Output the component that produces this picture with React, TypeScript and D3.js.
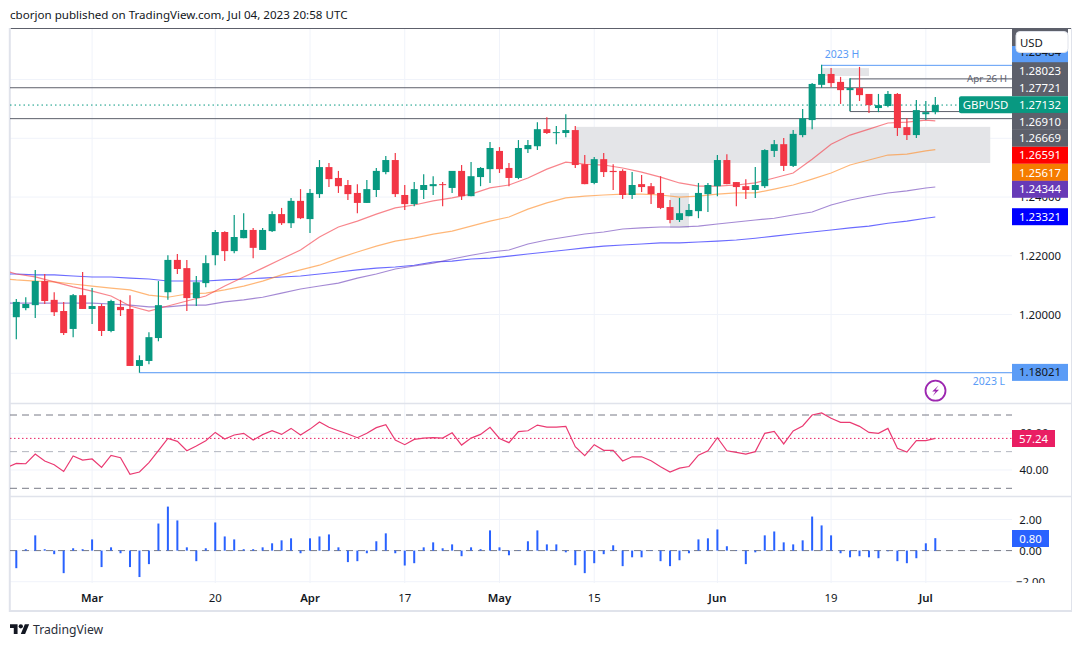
import React from "react";
import * as d3 from "d3";

const opens = [1.1991,1.2022,1.2032,1.2114,1.2050,1.2012,1.1951,1.2066,1.2019,1.2029,1.1944,1.2026,1.2019,1.1825,1.1842,1.1920,1.2076,1.2186,1.2158,1.2056,1.2107,1.2202,1.2281,1.2216,1.2260,1.2288,1.2220,1.2284,1.2342,1.2311,1.2387,1.2325,1.2410,1.2502,1.2465,1.2441,1.2414,1.2380,1.2424,1.2485,1.2526,1.2407,1.2376,1.2424,1.2437,1.2444,1.2431,1.2489,1.2403,1.2468,1.2495,1.2557,1.2499,1.2465,1.2563,1.2573,1.2631,1.2618,1.2618,1.2628,1.2512,1.2448,1.2529,1.2489,1.2489,1.2407,1.2444,1.2437,1.2414,1.2366,1.2322,1.2335,1.2352,1.2410,1.2437,1.2526,1.2451,1.2437,1.2424,1.2437,1.2557,1.2580,1.2506,1.2611,1.2662,1.2782,1.2819,1.2792,1.2764,1.2771,1.2751,1.2703,1.2710,1.2751,1.2638,1.2611,1.2682,1.2689];
const highs = [1.2053,1.2059,1.2152,1.2138,1.2076,1.2043,1.2070,1.2145,1.2090,1.2036,1.2050,1.2050,1.2066,1.1861,1.1940,1.2114,1.2202,1.2206,1.2186,1.2131,1.2202,1.2288,1.2284,1.2339,1.2345,1.2295,1.2295,1.2352,1.2363,1.2397,1.2427,1.2427,1.2526,1.2516,1.2489,1.2458,1.2444,1.2458,1.2499,1.2540,1.2550,1.2441,1.2451,1.2478,1.2471,1.2451,1.2489,1.2509,1.2519,1.2502,1.2587,1.2570,1.2516,1.2594,1.2594,1.2655,1.2672,1.2642,1.2682,1.2642,1.2543,1.2536,1.2550,1.2512,1.2495,1.2485,1.2475,1.2448,1.2471,1.2390,1.2397,1.2376,1.2448,1.2448,1.2543,1.2546,1.2451,1.2461,1.2502,1.2563,1.2594,1.2601,1.2628,1.2700,1.2788,1.2850,1.2839,1.2809,1.2805,1.2843,1.2751,1.2751,1.2761,1.2754,1.2668,1.2730,1.2727,1.2741];
const lows = [1.1916,1.2015,1.1988,1.2036,1.1995,1.1930,1.1923,1.2019,1.1968,1.1927,1.1940,1.1995,1.1825,1.1802,1.1831,1.1909,1.2050,1.2138,1.2012,1.2029,1.2093,1.2168,1.2182,1.2209,1.2260,1.2192,1.2220,1.2281,1.2305,1.2295,1.2325,1.2278,1.2397,1.2434,1.2414,1.2390,1.2345,1.2380,1.2400,1.2478,1.2400,1.2356,1.2369,1.2393,1.2407,1.2369,1.2414,1.2390,1.2403,1.2437,1.2448,1.2482,1.2437,1.2461,1.2550,1.2560,1.2615,1.2580,1.2604,1.2499,1.2444,1.2444,1.2468,1.2424,1.2393,1.2393,1.2417,1.2376,1.2359,1.2311,1.2315,1.2335,1.2328,1.2349,1.2403,1.2444,1.2369,1.2393,1.2397,1.2431,1.2536,1.2489,1.2502,1.2604,1.2631,1.2771,1.2775,1.2717,1.2693,1.2727,1.2686,1.2689,1.2706,1.2608,1.2594,1.2601,1.2662,1.2682];
const closes = [1.2043,1.2036,1.2114,1.2046,1.2008,1.1937,1.2066,1.2019,1.2029,1.1944,1.2046,1.2015,1.1825,1.1845,1.1923,1.2032,1.2186,1.2155,1.2056,1.2110,1.2175,1.2281,1.2216,1.2264,1.2288,1.2227,1.2288,1.2342,1.2311,1.2387,1.2328,1.2414,1.2502,1.2461,1.2437,1.2410,1.2380,1.2427,1.2489,1.2526,1.2410,1.2376,1.2427,1.2441,1.2444,1.2441,1.2489,1.2403,1.2471,1.2499,1.2567,1.2495,1.2465,1.2567,1.2577,1.2631,1.2618,1.2621,1.2628,1.2509,1.2444,1.2529,1.2485,1.2485,1.2407,1.2441,1.2434,1.2410,1.2363,1.2322,1.2345,1.2356,1.2414,1.2441,1.2526,1.2444,1.2434,1.2424,1.2441,1.2560,1.2580,1.2506,1.2615,1.2668,1.2785,1.2819,1.2788,1.2764,1.2771,1.2747,1.2713,1.2713,1.2751,1.2635,1.2611,1.2696,1.2689,1.27132];

const emaIndex = [-1,0,2,4,6,8,10,12,14,16,18,20,22,24,26,28,30,32,34,36,38,40,42,44,46,48,50,52,54,56,58,60,62,64,66,68,70,72,74,76,78,80,82,84,86,88,90,92,94,96,97];
const ema21 = [1.2148,1.2138,1.2128,1.2111,1.2094,1.2080,1.2063,1.2029,1.2012,1.2029,1.2046,1.2063,1.2097,1.2128,1.2158,1.2189,1.2220,1.2264,1.2298,1.2318,1.2342,1.2363,1.2373,1.2387,1.2397,1.2410,1.2431,1.2441,1.2465,1.2495,1.2519,1.2512,1.2509,1.2499,1.2485,1.2468,1.2448,1.2437,1.2437,1.2441,1.2448,1.2465,1.2482,1.2529,1.2580,1.2611,1.2631,1.2652,1.2655,1.2662,1.26591];
const ema50 = [1.2121,1.2118,1.2114,1.2111,1.2104,1.2097,1.2090,1.2084,1.2066,1.2059,1.2070,1.2073,1.2084,1.2097,1.2114,1.2135,1.2152,1.2168,1.2192,1.2213,1.2233,1.2250,1.2260,1.2274,1.2284,1.2301,1.2318,1.2332,1.2359,1.2380,1.2397,1.2403,1.2407,1.2410,1.2410,1.2407,1.2400,1.2403,1.2410,1.2414,1.2414,1.2427,1.2441,1.2461,1.2482,1.2509,1.2526,1.2543,1.2546,1.2557,1.25617];
const ema100 = [1.2039,1.2039,1.2039,1.2039,1.2039,1.2039,1.2036,1.2032,1.2026,1.2026,1.2032,1.2032,1.2043,1.2050,1.2059,1.2073,1.2087,1.2097,1.2107,1.2124,1.2138,1.2155,1.2165,1.2175,1.2189,1.2202,1.2213,1.2220,1.2240,1.2254,1.2264,1.2274,1.2281,1.2291,1.2295,1.2298,1.2298,1.2301,1.2308,1.2315,1.2322,1.2328,1.2339,1.2349,1.2373,1.2390,1.2403,1.2414,1.2421,1.2431,1.24344];
const ema200 = [1.2138,1.2138,1.2135,1.2135,1.2131,1.2128,1.2128,1.2124,1.2121,1.2114,1.2114,1.2114,1.2118,1.2121,1.2124,1.2128,1.2131,1.2138,1.2145,1.2152,1.2158,1.2162,1.2168,1.2179,1.2182,1.2189,1.2192,1.2199,1.2206,1.2213,1.2220,1.2227,1.2233,1.2237,1.2240,1.2244,1.2244,1.2247,1.2250,1.2254,1.2260,1.2267,1.2274,1.2281,1.2288,1.2295,1.2301,1.2311,1.2318,1.2328,1.23321];

const rsi = [41.4,43.6,43.4,48.7,44.9,42.9,39.2,47.6,45.4,46.0,41.4,48.0,46.7,37.6,38.9,44.0,50.5,57.2,55.6,50.5,53.1,56.0,60.5,56.9,59.1,60.0,56.3,59.3,61.4,59.4,62.7,59.1,62.3,66.2,63.3,61.4,59.6,57.6,60.0,63.1,64.7,56.3,53.8,56.7,57.4,57.6,57.4,60.3,53.6,57.4,59.4,63.3,57.2,54.9,60.9,61.4,64.5,63.4,63.4,63.8,52.7,47.8,53.8,50.7,50.7,44.9,47.2,47.2,45.0,41.8,38.9,41.0,41.9,48.1,50.5,57.6,50.5,49.6,48.7,50.0,60.0,61.1,54.2,61.3,64.0,70.0,71.1,68.2,66.0,66.0,63.8,60.5,60.0,62.7,51.8,49.8,56.0,56.0,57.24];
const hist = [-1.13,.09,.98,.09,-.23,-1.45,.15,.09,.72,-1.06,.21,-.17,-1.06,-1.70,-.87,1.74,2.83,1.94,.21,-.68,.15,1.81,.91,.72,.09,.09,.21,.47,.66,.79,-.17,.79,.91,1.04,.21,-.74,-.68,-.17,.60,1.11,-.17,-.96,-.81,.21,.53,.15,.40,-.36,.21,.09,1.30,.21,-.30,.02,.60,1.30,.40,.40,-.11,-.94,-1.45,-.81,-.23,.34,-1.00,-.43,-.43,.02,-.68,-1.00,-.62,-.17,.72,.79,1.36,.28,.02,-.87,-.11,.98,1.23,.53,.40,.66,2.19,1.62,.98,-.17,-.43,-.36,-.43,-.49,-.04,-.68,-.81,-.49,.47,.80];

const timeTicks = [[8,"Mar",1],[21,"20",0],[31,"Apr",1],[41,"17",0],[51,"May",1],[61,"15",0],[74,"Jun",1],[86,"19",0],[96,"Jul",1]] as const;
const priceGrid = [1.18,1.20,1.22,1.24,1.26,1.28];
const priceTicks = [1.22,1.20];
const rsiGrid = [60,40];
const rsiBands = [70,50,30];
const histGrid = [2,0,-2];
const zones = [[59,102.8,1.2639,1.2516],[69,71,1.2414,1.2295],[85,90,1.2839,1.2812]];
const hLevelsFull = [1.27721,1.26669];
const boxHigh = 1.28023, boxLow = 1.26910, boxStart = 88;
const yearHigh = 1.28484, yearHighStart = 85;
const yearLow = 1.18021, yearLowStart = 13;
const lastPrice = 1.27132;

const GREY = "#5d606b", GREEN = "#089981", RED = "#f23645", BLUE = "#5b9cf6";
const GRID = "#f0f3fa", BORDER = "#e0e3eb";
const priceLabels: [number, string, string][] = [
  [70.7,"1.28023",GREY],[87.5,"1.27721",GREY],[104.7,"1.27132",GREEN],[121.4,"1.26910",GREY],[138.3,"1.26669",GREY],
  [155.3,"1.26591","#ff0000"],[172.4,"1.25617","#f57c00"],[189.3,"1.24344","#673ab7"],[216.7,"1.23321","#0000ff"],
];
const FONT = "'Noto Sans', sans-serif";
const AXIS_FS = 11.4;

export default function App() {
  const L = 10, R = 1012;
  const x = d3.scaleLinear().domain([0, 97]).range([16.3, 935.3]);
  const y = d3.scaleLinear().domain([1.18, 1.26]).range([373.3, 138.3]);
  const yR = d3.scaleLinear().domain([30, 70]).range([488.3, 415]);
  const yH = d3.scaleLinear().domain([-2, 2]).range([581.7, 519.5]);
  const emaLine = (vals: number[]) =>
    d3.line<number>().x((_, i) => x(emaIndex[i])).y((v) => y(v))(vals) as string;
  const rsiLine = d3.line<number>().x((_, i) => x(i - 1)).y((v) => yR(v))(rsi) as string;
  const pLine = (py: number, x1: number, color: string, extra: any = {}) => (
    <line x1={x1} x2={R} y1={py} y2={py} stroke={color} strokeWidth={1} {...extra} />
  );
  const label = (cy: number, t: string, bg: string, fg = "#fff", w = 56) => (
    <g key={t + cy}>
      <rect x={1012} y={cy - 8.5} width={w} height={17} fill={bg} />
      <text x={1012 + w / 2} y={cy + 4.1} textAnchor="middle" fill={fg} fontSize={AXIS_FS}>{t}</text>
    </g>
  );
  return (
    <svg width={1082} height={647} style={{ position: "absolute", left: 0, top: 0, display: "block", background: "#fff", fontFamily: FONT }}>
      <defs>
        <clipPath id="main"><rect x={L} y={29} width={R - L} height={374} /></clipPath>
        <clipPath id="rsi"><rect x={L} y={404} width={R - L} height={92} /></clipPath>
        <clipPath id="axis"><rect x={1012} y={497} width={60} height={86} /></clipPath>
      </defs>
      <text x={10} y={19} fontSize={11.6} fill="#131722">cborjon published on TradingView.com, Jul 04, 2023 20:58 UTC</text>

      {/* grid */}
      {timeTicks.map(([i]) => (
        <line key={i} x1={x(i)} x2={x(i)} y1={29} y2={583} stroke={GRID} strokeWidth={1} />
      ))}
      {priceGrid.map((p) => <line key={p} x1={L} x2={R} y1={y(p)} y2={y(p)} stroke={GRID} />)}
      {rsiGrid.map((p) => <line key={p} x1={L} x2={R} y1={yR(p)} y2={yR(p)} stroke={GRID} />)}
      {histGrid.map((p) => <line key={p} x1={L} x2={R} y1={yH(p)} y2={yH(p)} stroke={GRID} />)}

      {/* frame */}
      <line x1={L} x2={1072} y1={28.5} y2={28.5} stroke={GREY} />
      <line x1={L} x2={1072} y1={403.5} y2={403.5} stroke={BORDER} strokeWidth={1.5} />
      <line x1={L} x2={1072} y1={496.5} y2={496.5} stroke={BORDER} strokeWidth={1.5} />
      <line x1={9.8} x2={9.8} y1={28} y2={612} stroke={BORDER} strokeWidth={2} />
      <line x1={9} x2={1072} y1={611} y2={611} stroke={BORDER} strokeWidth={2} />
      <line x1={1071.5} x2={1071.5} y1={28} y2={612} stroke={BORDER} />

      <g clipPath="url(#main)">
        {zones.map(([a, b, t, m], k) => (
          <rect key={k} x={x(a)} width={x(b) - x(a)} y={y(t)} height={y(m) - y(t)} fill="#e4e5e8" />
        ))}
        {pLine(y(hLevelsFull[0]), L, GREY)}
        {pLine(y(hLevelsFull[1]), L, GREY)}
        {pLine(y(boxHigh), x(boxStart), GREY)}
        {pLine(y(boxLow), x(boxStart), GREY)}
        <line x1={x(boxStart)} x2={x(boxStart)} y1={y(boxHigh)} y2={y(boxLow)} stroke={GREY} />
        {pLine(y(yearHigh), x(yearHighStart), BLUE)}
        {pLine(y(yearLow), x(yearLowStart), BLUE)}
        {pLine(y(lastPrice), L, GREEN, { strokeDasharray: "1.5 3" })}

        <path d={emaLine(ema200)} fill="none" stroke="#3a3aff" strokeOpacity={0.75} strokeWidth={1.1} />
        <path d={emaLine(ema100)} fill="none" stroke="#673ab7" strokeOpacity={0.6} strokeWidth={1.1} />
        <path d={emaLine(ema50)} fill="none" stroke="#ff9030" strokeOpacity={0.65} strokeWidth={1.2} />
        <path d={emaLine(ema21)} fill="none" stroke="#f5444f" strokeOpacity={0.65} strokeWidth={1.2} />

        {closes.map((c, i) => {
          const o = opens[i];
          const col = c >= o ? GREEN : RED;
          const top = y(Math.max(o, c));
          const bot = y(Math.min(o, c));
          return (
            <g key={i}>
              <line x1={x(i)} x2={x(i)} y1={y(highs[i])} y2={y(lows[i])} stroke={col} strokeWidth={1.2} />
              <rect x={x(i) - 3.5} y={top} width={7} height={Math.max(bot - top, 1)} fill={col} />
            </g>
          );
        })}
      </g>

      <g fontSize={10.5}>
        <text x={842} y={58} textAnchor="middle" fill={BLUE}>2023 H</text>
        <text x={989} y={385} textAnchor="middle" fill={BLUE}>2023 L</text>
        <text x={987} y={82} textAnchor="middle" fill={GREY} fontSize={9.8}>Apr 26 H</text>
      </g>

      {/* lightning marker */}
      <circle cx={935.5} cy={390.7} r={10} fill="#fff" stroke="#9c27b0" strokeWidth={1.8} />
      <path d="M938.5 385.5 L932.2 391.6 L935.6 391.6 L932.8 396 L939 389.8 L935.6 389.8 Z" fill="#9c27b0" />

      {/* RSI pane */}
      <g clipPath="url(#rsi)">
        {rsiBands.map((b) => (
          <line key={b} x1={L} x2={R} y1={yR(b)} y2={yR(b)} stroke={b === 50 ? "#b2b5be" : "#787b86"} strokeDasharray="7 5" />
        ))}
        <line x1={L} x2={R} y1={yR(57.24)} y2={yR(57.24)} stroke="#e91e63" strokeDasharray="1.5 2.5" />
        <path d={rsiLine} fill="none" stroke="#ea3a72" strokeWidth={1.2} />
      </g>

      {/* histogram pane */}
      <line x1={L} x2={R} y1={yH(0)} y2={yH(0)} stroke="#787b86" strokeDasharray="7 5" />
      {hist.map((v, i) => (
        <rect key={i} x={x(i) - 1} width={2} y={Math.min(yH(v), yH(0))} height={Math.abs(yH(v) - yH(0))} fill="#2962ff" />
      ))}

      {/* time axis */}
      {timeTicks.map(([i, t, bold]) => (
        <text key={i} x={x(i)} y={602} textAnchor="middle" fontSize={AXIS_FS} fill="#131722" fontWeight={bold ? 600 : 400}>{t}</text>
      ))}

      {/* price axis */}
      <g fontSize={AXIS_FS} fill="#131722" textAnchor="middle">
        {priceTicks.map((p) => (
          <text key={p} x={1040} y={y(p) + 4.1}>{d3.format(".5f")(p)}</text>
        ))}
        <text x={1040} y={y(1.24) + 4.1}>1.24000</text>
        <text x={1034} y={yR(60) + 4.1}>60.00</text>
        <text x={1034} y={yR(40) + 4.1}>40.00</text>
        <text x={1030.5} y={yH(2) + 4.1}>2.00</text>
        <text x={1030.5} y={yH(0) + 4.1}>0.00</text>
        <text x={1030.5} y={yH(-2) + 4.1} clipPath="url(#axis)">−2.00</text>
      </g>
      <rect x={1012} y={29} width={56} height={17} fill={GREY} />
      <rect x={1012} y={46} width={56} height={17} fill={BLUE} />
      <text x={1040} y={55.5} textAnchor="middle" fontSize={AXIS_FS} fill="#131722">1.28484</text>
      {priceLabels.map(([cy, t, bg]) => label(cy, t, bg))}
      {label(y(yearLow) - 0.3, "1.18021", BLUE, "#131722")}
      <path d="M1012 96.2 H961 a2 2 0 0 0 -2 2 V111.2 a2 2 0 0 0 2 2 H1012 Z" fill={GREEN} />
      <text x={985.5} y={108.8} textAnchor="middle" fontSize={AXIS_FS} fill="#fff">GBPUSD</text>
      <rect x={1016} y={31.5} width={52} height={21} rx={4} fill="#fff" stroke="#e0e3eb" />
      <text x={1020} y={46.5} fontSize={AXIS_FS} fill="#131722">USD</text>

      {label(438.5, "57.24", "#e91e63", "#fff", 43)}
      {label(538.5, "0.80", "#2962ff", "#fff", 37)}

      {/* logo */}
      <g transform="translate(10 622) scale(0.54)" fill="#131722">
        <path d="M14 22H7V11H0V4h14v18zM28 22h-8l7.5-18h8L28 22z" />
        <circle cx={20} cy={8} r={4} />
      </g>
      <text x={33} y={634} fontSize={12.2} fill="#2a2e39">TradingView</text>
    </svg>
  );
}
